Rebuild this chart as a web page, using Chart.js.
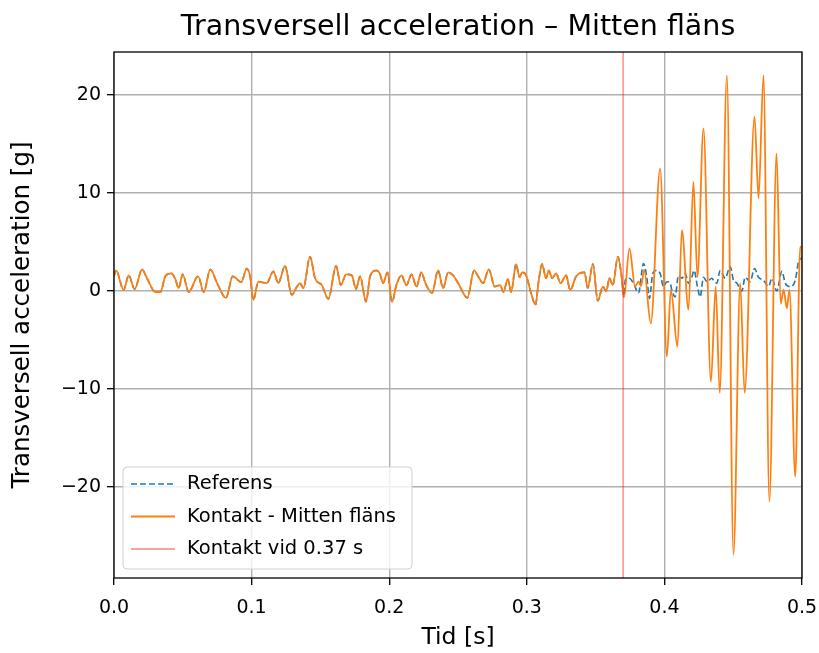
<!DOCTYPE html>
<html>
<head>
<meta charset="utf-8">
<script src="https://cdn.jsdelivr.net/npm/chart.js@4.4.1/dist/chart.umd.min.js"></script>
<style>
    html, body { margin: 0; padding: 0; background: #fff; }
    #wrap { width: 819px; height: 653px; position: relative; }
</style>
</head>
<body>
<div id="wrap"><canvas id="accChart"></canvas></div>
<script>
// samma signal för båda serierna fram till kontakten
const sharedT = [0.0000, 0.0015, 0.0070, 0.0107, 0.0150, 0.0204, 0.0240, 0.0300, 0.0337, 0.0373, 0.0417, 0.0446, 0.0470, 0.0499, 0.0543, 0.0611, 0.0652, 0.0700, 0.0749, 0.0814, 0.0863, 0.0925, 0.0965, 0.0989, 0.1013, 0.1049, 0.1110, 0.1158, 0.1194, 0.1243, 0.1292, 0.1328, 0.1352, 0.1376, 0.1425, 0.1461, 0.1510, 0.1558, 0.1614, 0.1648, 0.1687, 0.1728, 0.1759, 0.1788, 0.1832, 0.1861, 0.1907, 0.1931, 0.1956, 0.1987, 0.2021, 0.2052, 0.2089, 0.2125, 0.2162, 0.2198, 0.2234, 0.2263, 0.2312, 0.2355, 0.2392, 0.2428, 0.2464, 0.2501, 0.2568, 0.2617, 0.2646, 0.2682, 0.2724, 0.2767, 0.2806, 0.2830, 0.2862, 0.2886, 0.2922, 0.2947, 0.2966, 0.2995, 0.3031, 0.3063, 0.3087, 0.3111, 0.3140, 0.3160, 0.3184, 0.3213, 0.3245, 0.3286, 0.3315, 0.3359, 0.3419, 0.3443, 0.3480, 0.3516, 0.3553, 0.3577, 0.3601, 0.3625, 0.3662, 0.3686, 0.3707];
const sharedV = [1.5, 2.1, 0.1, 1.6, 0.2, 2.2, 1.3, -0.1, -0.1, 1.5, 1.8, 1.2, 0.3, 1.7, -0.1, 1.5, -0.1, 2.2, 0.8, -0.7, 1.5, 0.9, 2.3, 1.5, -0.9, 0.95, 0.8, 2.0, 0.8, 2.55, -0.4, 0.4, 0.8, 0.3, 3.5, 1.3, 0.6, -0.8, 2.55, 0.6, 1.7, 1.6, 0.2, 1.5, -1.1, 1.5, 2.1, 1.8, 0.8, 1.9, -1.1, 0.6, 1.6, 0.6, 1.7, 0.45, 1.9, 0.8, -0.2, 2.1, 0.3, 1.9, 1.6, 0.8, -0.7, 2.1, 1.5, 0.8, 2.2, 0.45, 0.6, -0.1, 1.2, -0.1, 2.75, 1.4, 1.9, 1.6, -0.2, -1.4, 1.1, 2.75, 1.3, 2.1, 1.3, 1.8, 0.8, 1.6, 0.1, 1.5, 1.9, 0.3, 2.75, -1.0, 0.45, 0.0, 1.3, 0.6, 3.5, 1.8, -0.6];

// efter kontakten
const refT = [0.3715, 0.3744, 0.3775, 0.3812, 0.3848, 0.3872, 0.3891, 0.3916, 0.3940, 0.3969, 0.3993, 0.4018, 0.4042, 0.4054, 0.4078, 0.4102, 0.4127, 0.4151, 0.4175, 0.4200, 0.4216, 0.4240, 0.4260, 0.4284, 0.4309, 0.4345, 0.4357, 0.4381, 0.4405, 0.4442, 0.4478, 0.4502, 0.4527, 0.4563, 0.4587, 0.4623, 0.4655, 0.4684, 0.4720, 0.4757, 0.4781, 0.4817, 0.4854, 0.4878, 0.4914, 0.4951, 0.4975, 0.5000];
const refV = [1.1, 1.3, 0.8, -0.2, 2.8, 1.4, -0.75, 1.8, 2.1, 1.8, 0.45, 0.95, 0.8, 0.1, -0.6, 1.6, 1.3, 1.8, 0.8, 1.45, 2.1, 0.45, -0.6, 1.4, 0.95, 1.3, 1.1, 0.8, 2.1, 1.3, 2.5, 1.1, 0.8, 0.0, 1.4, 0.95, 2.3, 1.4, 1.1, 0.45, 1.3, 0.0, 2.0, 0.8, 0.45, 1.1, 3.0, 3.4];

const contactT = [0.3746, 0.3787, 0.3812, 0.3830, 0.3853, 0.3901, 0.3969, 0.4018, 0.4047, 0.4095, 0.4127, 0.4175, 0.4211, 0.4240, 0.4284, 0.4338, 0.4373, 0.4402, 0.4454, 0.4502, 0.4551, 0.4583, 0.4655, 0.4684, 0.4720, 0.4763, 0.4815, 0.4845, 0.4866, 0.4890, 0.4909, 0.4951, 0.4987, 0.5000];
const contactV = [4.35, 0.45, 0.95, 0.5, 2.15, -3.3, 12.5, -6.7, 0.1, -5.7, 6.2, -1.9, 11.15, 1.45, 16.6, -9.25, 0.45, -10.4, 22.0, -26.9, 0.8, -10.4, 17.8, 9.45, 22.0, -21.5, 14.05, -1.3, 0.1, -1.75, 0.1, -18.95, 4.5, 4.5];

const contactTime = 0.37;
const xTicks = [0.0, 0.1, 0.2, 0.3, 0.4, 0.5];
const yTicks = [-20, -10, 0, 10, 20];
const xMin = 0, xMax = 0.5;
const yMin = -29.3, yMax = 24.4;

const toPoints = (ts, vs) => ts.map((t, i) => ({ x: t, y: vs[i] }));
const refData = toPoints(sharedT, sharedV).concat(toPoints(refT, refV));
const contactData = toPoints(sharedT, sharedV).concat(toPoints(contactT, contactV));

Chart.defaults.font.family = "'DejaVu Sans', sans-serif";
Chart.defaults.color = '#000';

const frameAndTitle = {
    id: 'frameAndTitle',
    afterDraw(chart) {
        const { ctx, chartArea } = chart;
        ctx.save();
        ctx.strokeStyle = '#000';
        ctx.lineWidth = 1.3;
        ctx.strokeRect(chartArea.left, chartArea.top, chartArea.right - chartArea.left, chartArea.bottom - chartArea.top);

        ctx.fillStyle = '#000';
        ctx.font = "28.5px 'DejaVu Sans'";
        ctx.textAlign = 'center';
        ctx.textBaseline = 'middle';
        ctx.fillText('Transversell acceleration \u2013 Mitten fläns', (chartArea.left + chartArea.right) / 2, 28);

        // legend, nere till vänster inne i ytan
        const box = { x: chartArea.left + 9, y: 467, w: 289, h: 102 };
        ctx.beginPath();
        ctx.roundRect(box.x, box.y, box.w, box.h, 4);
        ctx.fillStyle = 'rgba(255,255,255,0.8)';
        ctx.fill();
        ctx.strokeStyle = '#d0d0d0';
        ctx.lineWidth = 1;
        ctx.stroke();

        ctx.font = "19.5px 'DejaVu Sans'";
        ctx.textAlign = 'left';
        chart.data.datasets.forEach((ds, i) => {
            const y = box.y + 17 + i * 32.5;
            ctx.beginPath();
            ctx.strokeStyle = ds.borderColor;
            ctx.lineWidth = ds.borderWidth;
            ctx.setLineDash(ds.borderDash || []);
            ctx.moveTo(box.x + 8, y);
            ctx.lineTo(box.x + 52, y);
            ctx.stroke();
            ctx.setLineDash([]);
            ctx.fillStyle = '#000';
            ctx.fillText(ds.label, box.x + 64, y);
        });
        ctx.restore();
    }
};

const ctx = document.getElementById('accChart').getContext('2d');

new Chart(ctx, {
    type: 'line',
    data: {
        datasets: [
            {
                label: 'Referens',
                data: refData,
                borderColor: '#1f77b4',
                borderWidth: 1.6,
                borderDash: [6, 3],
                pointRadius: 0,
                cubicInterpolationMode: 'monotone',
                fill: false,
                order: 2
            },
            {
                label: 'Kontakt - Mitten fläns',
                data: contactData,
                borderColor: '#ff7f0e',
                borderWidth: 1.8,
                pointRadius: 0,
                cubicInterpolationMode: 'monotone',
                fill: false,
                order: 1
            },
            {
                label: 'Kontakt vid 0.37 s',
                data: [{ x: contactTime, y: yMin }, { x: contactTime, y: yMax }],
                borderColor: 'rgba(255, 0, 0, 0.5)',
                borderWidth: 1.3,
                pointRadius: 0,
                fill: false,
                order: 0
            }
        ]
    },
    options: {
        responsive: true,
        maintainAspectRatio: false,
        animation: false,
        layout: { padding: { top: 52, right: 17, left: 0, bottom: 0 } },
        scales: {
            x: {
                type: 'linear',
                min: xMin,
                max: xMax,
                afterFit: (scale) => {
                    scale.height = 75;
                    scale.paddingLeft = 0;
                    scale.paddingRight = 0;
                },
                afterBuildTicks: (scale) => { scale.ticks = xTicks.map(v => ({ value: v })); },
                title: {
                    display: true,
                    text: 'Tid [s]',
                    font: { size: 23.5 },
                    padding: { top: 0, bottom: 1 }
                },
                ticks: {
                    font: { size: 19 },
                    padding: 12,
                    maxRotation: 0,
                    callback: (value) => value.toFixed(1)
                },
                grid: {
                    color: '#b0b0b0',
                    lineWidth: 1.4,
                    tickColor: '#000',
                    tickLength: 7,
                    tickWidth: 1.3
                },
                border: { display: false }
            },
            y: {
                type: 'linear',
                min: yMin,
                max: yMax,
                afterFit: (scale) => {
                    scale.width = 114;
                    scale.paddingTop = 0;
                    scale.paddingBottom = 0;
                },
                afterBuildTicks: (scale) => { scale.ticks = yTicks.map(v => ({ value: v })); },
                title: {
                    display: true,
                    text: 'Transversell acceleration [g]',
                    font: { size: 24.5 },
                    padding: { top: 8, bottom: 0 }
                },
                ticks: {
                    font: { size: 19 },
                    padding: 6,
                    callback: (value) => value < 0 ? '\u2212' + Math.abs(value) : String(value)
                },
                grid: {
                    color: '#b0b0b0',
                    lineWidth: 1.4,
                    tickColor: '#000',
                    tickLength: 7,
                    tickWidth: 1.3
                },
                border: { display: false }
            }
        },
        plugins: {
            legend: { display: false },
            title: { display: false },
            tooltip: { enabled: false }
        }
    },
    plugins: [frameAndTitle]
});
</script>
</body>
</html>
